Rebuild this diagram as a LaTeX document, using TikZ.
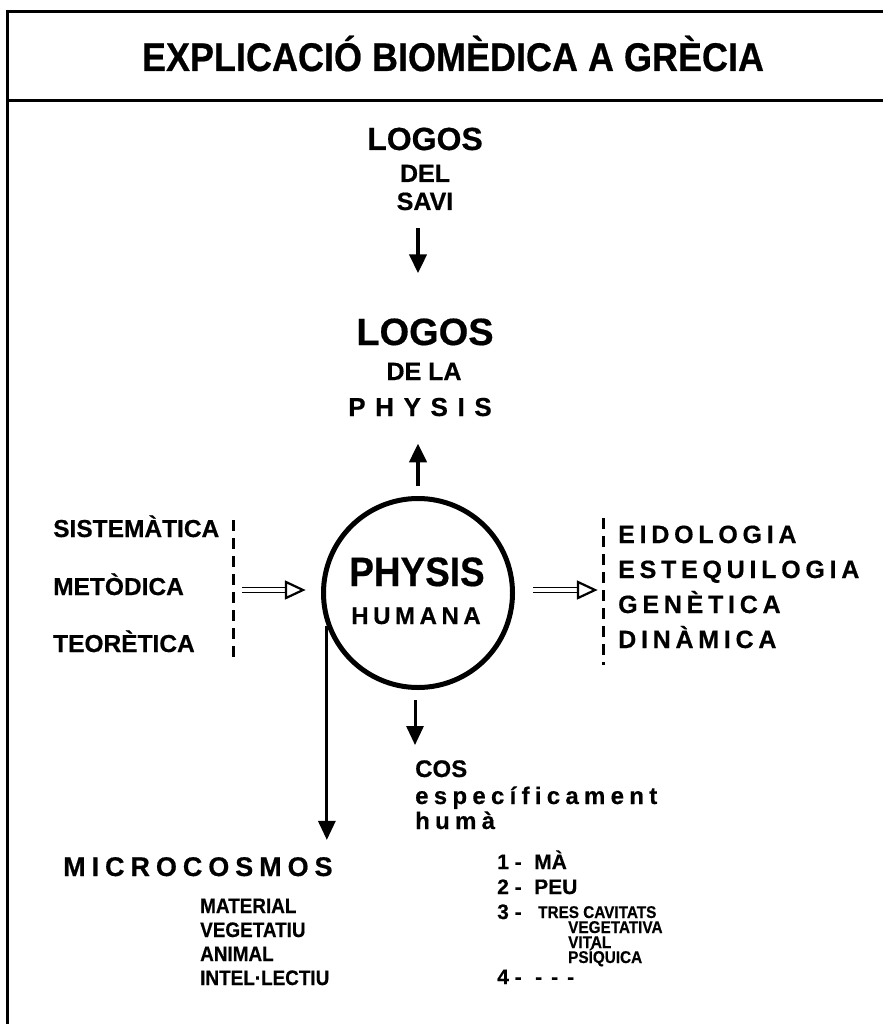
\documentclass[tikz,border=0pt]{standalone}
\usepackage{fontspec}
\setmainfont{Liberation Sans}[BoldFeatures={FakeBold=0.5}]
\newfontfamily\narrowfont{Liberation Sans}[FakeStretch=0.9,BoldFeatures={FakeBold=0.5}]
\usetikzlibrary{arrows.meta}
\tikzset{
	txt/.style={inner sep=0pt,font=\bfseries\fontsize{#1}{#1}\selectfont},
	ntxt/.style={inner sep=0pt,font=\narrowfont\bfseries\fontsize{#1}{#1}\selectfont},
	stxt/.style 2 args={inner sep=0pt,font=\bfseries\fontsize{#1}{#1}\selectfont\addfontfeatures{LetterSpace=#2}},
	arr/.style={line width=#1,-{Triangle[length=19pt,width=17pt]}},
	dsh/.style={line width=3pt,dash pattern=on 11pt off 7pt},
	dbl/.style={double,double distance=3.5pt,line width=1.1pt},
	opentip/.style={line width=2.2pt,line join=miter,fill=white}
}
\begin{document}
\begin{tikzpicture}[x=1pt,y=-1pt]
	\useasboundingbox (0,0) rectangle (883,1024);
	\draw[line width=3pt] (7,1024) -- (7,12) -- (883,12);
	\draw[line width=3pt] (7,101) -- (883,101);
	\node [ntxt=40,anchor=base] (title) at (453,71) {EXPLICACIÓ BIOMÈDICA A GRÈCIA};

	\node [txt=32,anchor=base] (logos1) at (425,150) {LOGOS};
	\node [txt=25,anchor=base] (del) at (425,182) {DEL};
	\node [txt=25,anchor=base] (savi) at (425,210) {SAVI};
	\node [txt=38,anchor=base] (logos2) at (425,345) {LOGOS};
	\node [txt=25,anchor=base] (dela) at (424,380) {DE LA};
	\node [stxt={26}{37},anchor=base] (physis) at (420,416) {PHYSIS};

	\node [circle,draw,line width=5pt,minimum size=189pt] (phys) at (418,593) {};
	\node [ntxt=41,anchor=base] (physin) at (417,586) {PHYSIS};
	\node [stxt={24}{19},anchor=base] (humana) at (416,624) {HUMANA};

	\draw[arr=4.5pt,shorten <=18pt,shorten >=45pt] (savi.south -| phys) -- (logos2.north -| phys);
	\draw[arr=4.5pt,shorten <=10pt,shorten >=27pt] (phys.north) -- (physis.south -| phys);

	\node [txt=24.5,anchor=base west] (sist) at (53,537) {SISTEMÀTICA};
	\node [txt=24.5,anchor=base west] (meto) at (53,595) {METÒDICA};
	\node [txt=24.5,anchor=base west] (teor) at (53,652) {TEORÈTICA};
	\draw[dsh] (233,520) -- (233,660);
	\coordinate (la) at (242,590);
	\coordinate (lb) at (303,590);
	\draw[dbl,shorten >=16pt] (la) -- (lb);
	\draw[opentip] (lb) -- ++(-17,-8) -- ++(0,16) -- cycle;

	\coordinate (ra) at (533,590);
	\coordinate (rb) at (595,590);
	\draw[dbl,shorten >=16pt] (ra) -- (rb);
	\draw[opentip] (rb) -- ++(-17,-8) -- ++(0,16) -- cycle;
	\draw[dsh] (603,518) -- (603,665);
	\node [stxt={25}{19},anchor=base west] (eido) at (618,543) {EIDOLOGIA};
	\node [stxt={25}{19},anchor=base west] (este) at (618,578) {ESTEQUILOGIA};
	\node [stxt={25}{19},anchor=base west] (gene) at (618,613) {GENÈTICA};
	\node [stxt={25}{19},anchor=base west] (dina) at (618,648) {DINÀMICA};

	\node [stxt={27}{22},anchor=base west] (micro) at (63,876) {MICROCOSMOS};
	\node [ntxt=21,anchor=base west] (mat) at (200,913) {MATERIAL};
	\node [ntxt=21,anchor=base west] (veg) at (200,937) {VEGETATIU};
	\node [ntxt=21,anchor=base west] (ani) at (200,961) {ANIMAL};
	\node [ntxt=21,anchor=base west] (int) at (200,985) {INTEL·LECTIU};
	\draw[arr=3pt,shorten >=17pt] (phys.200) -- (phys.200 |- micro.north);

	\node [txt=24,anchor=base west] (cos) at (415,777) {COS};
	\node [stxt={24}{22},anchor=base west] (espec) at (415,804) {específicament};
	\node [stxt={24}{22},anchor=base west] (huma) at (415,829) {humà};
	\draw[arr=3pt,shorten <=10pt,shorten >=15pt] (phys.south -| cos.west) -- (cos.north west);

	\node [txt=21,anchor=base west] (n1) at (497,869) {1 -};
	\node [txt=21,anchor=base west] (ma) at (534,869) {MÀ};
	\node [txt=21,anchor=base west] (n2) at (497,894) {2 -};
	\node [txt=21,anchor=base west] (peu) at (534,894) {PEU};
	\node [txt=21,anchor=base west] (n3) at (497,919) {3 -};
	\node [ntxt=17,anchor=base west] (tres) at (538,918) {TRES CAVITATS};
	\node [ntxt=17,anchor=base west] (vegv) at (568,933) {VEGETATIVA};
	\node [ntxt=17,anchor=base west] (vit) at (568,948) {VITAL};
	\node [ntxt=17,anchor=base west] (psi) at (568,963) {PSÍQUICA};
	\node [txt=21,anchor=base west] (n4) at (497,984) {4 -};
	\node [txt=21,anchor=base west] (etc) at (535,984) {-\hspace{9pt}-\hspace{9pt}-};
\end{tikzpicture}
\end{document}
